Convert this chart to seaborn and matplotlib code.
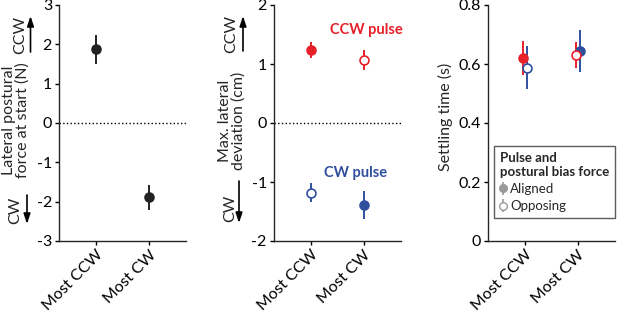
import numpy as np
import matplotlib
matplotlib.use("Agg")
import matplotlib.pyplot as plt
import seaborn as sns

# =========================
# DATA
# =========================
categories = ["Most CCW", "Most CW"]

# panel 1: lateral postural force at start (N)
force_mean = [1.88, -1.89]
force_err = [0.37, 0.31]

# panel 2: max. lateral deviation (cm)
ccw_dev_mean = [1.24, 1.07]
ccw_dev_err = [0.14, 0.165]
cw_dev_mean = [-1.18, -1.39]
cw_dev_err = [0.16, 0.23]

# panel 3: settling time (s)
ccw_settle_mean = [0.620, 0.630]
ccw_settle_err = [0.058, 0.045]
cw_settle_mean = [0.588, 0.644]
cw_settle_err = [0.072, 0.072]

# which condition is "aligned" (filled) for each pulse
ccw_filled = [True, False]
cw_filled = [False, True]

RED = "#e8202a"
BLUE = "#2f4f9e"
BLACK = "#222222"
GRAY = "#9a9a9a"
FS = 11.5

sns.set_style("ticks")
plt.rcParams["font.family"] = ["Lato", "DejaVu Sans"]
plt.rcParams["font.size"] = FS
plt.rcParams["axes.unicode_minus"] = False
plt.rcParams["axes.linewidth"] = 1.0
plt.rcParams["xtick.major.size"] = 3
plt.rcParams["ytick.major.size"] = 3

fig = plt.figure(figsize=(6.17, 3.13), dpi=100)
W, H = 617, 313


def add_axes(left_px, right_px, top_px=5, bottom_px=241):
    return fig.add_axes([left_px / W, 1 - bottom_px / H,
                         (right_px - left_px) / W, (bottom_px - top_px) / H])


def style_axes(ax):
    sns.despine(ax=ax)
    ax.set_xlim(-0.7, 1.7)
    ax.set_xticks(range(len(categories)))
    ax.set_xticklabels(categories, rotation=45, ha="right", rotation_mode="anchor")
    ax.tick_params(axis="both", colors="black", labelsize=FS, width=1, pad=2)


def draw_points(ax, xs, means, errs, color, filled, ms=6.4):
    for x, m, e, f in zip(xs, means, errs, filled):
        ax.errorbar(x, m, yerr=e, fmt="o", color=color, ms=ms, elinewidth=1.4,
                    mec=color, mew=1.2, mfc=color if f else "white", capsize=0,
                    zorder=3)


def fig_text(x_px, y_px, s, **kw):
    fig.text(x_px / W, 1 - y_px / H, s, ha="center", va="center", **kw)


def fig_arrow(x_px, y0_px, y1_px):
    fig.add_artist(matplotlib.patches.FancyArrowPatch(
        (x_px / W, 1 - y0_px / H), (x_px / W, 1 - y1_px / H),
        transform=fig.transFigure, arrowstyle="-|>,head_length=6,head_width=2",
        color="black", lw=1.2, mutation_scale=1, shrinkA=0, shrinkB=0))


x = np.arange(len(categories))

# =========================
# PANEL 1
# =========================
ax1 = add_axes(59, 186)
style_axes(ax1)
ax1.axhline(0, color="black", ls=":", lw=1, zorder=1)
draw_points(ax1, x, force_mean, force_err, BLACK, [True, True])
ax1.set_ylim(-3, 3)
ax1.set_yticks(range(-3, 4))
fig_text(16, 120, "Lateral postural\nforce at start (N)", rotation=90, linespacing=1.0)
fig_text(20, 35, "CCW", rotation=90)
fig_arrow(30.5, 52, 16)
fig_text(15.5, 210, "CW", rotation=90)
fig_arrow(27, 195, 224)

# =========================
# PANEL 2
# =========================
ax2 = add_axes(273.7, 401)
style_axes(ax2)
ax2.axhline(0, color="black", ls=":", lw=1, zorder=1)
draw_points(ax2, x, ccw_dev_mean, ccw_dev_err, RED, ccw_filled)
draw_points(ax2, x, cw_dev_mean, cw_dev_err, BLUE, cw_filled)
ax2.set_ylim(-2, 2)
ax2.set_yticks(range(-2, 3))
ax2.text(1.04, 1.58, "CCW pulse", color=RED, fontweight="bold", ha="center",
         va="center", fontsize=10.5)
ax2.text(0.85, -0.85, "CW pulse", color=BLUE, fontweight="bold", ha="center",
         va="center", fontsize=10.5)
fig_text(232, 121, "Max. lateral\ndeviation (cm)", rotation=90, linespacing=1.0)
fig_text(231, 34, "CCW", rotation=90)
fig_arrow(243, 51, 16)
fig_text(230, 208, "CW", rotation=90)
fig_arrow(239, 181, 223)

# =========================
# PANEL 3
# =========================
ax3 = add_axes(487.7, 615)
style_axes(ax3)
off = 0.04
ccw_x = [xi - off for xi in x]
cw_x = [xi + off for xi in x]
# filled (aligned) drawn on top
draw_points(ax3, cw_x, cw_settle_mean, cw_settle_err, BLUE, cw_filled)
draw_points(ax3, ccw_x, ccw_settle_mean, ccw_settle_err, RED, ccw_filled)
ax3.set_ylim(0, 0.8)
ax3.set_yticks([0, 0.2, 0.4, 0.6, 0.8])
ax3.set_yticklabels(["0", "0.2", "0.4", "0.6", "0.8"])
fig_text(445, 117, "Settling time (s)", rotation=90)

h_al = ax3.errorbar([np.nan], [np.nan], yerr=[0.1], fmt="o", color=GRAY, ms=5.5,
                    mfc=GRAY, mec=GRAY, elinewidth=1.2)
h_op = ax3.errorbar([np.nan], [np.nan], yerr=[0.1], fmt="o", color=GRAY, ms=5.5,
                    mfc="white", mec=GRAY, elinewidth=1.2)
leg = ax3.legend([h_al, h_op], ["Aligned", "Opposing"],
                 title="Pulse and\npostural bias force", loc="lower right",
                 bbox_to_anchor=(1.0, 0.097), frameon=True, fancybox=False,
                 fontsize=9.5, handlelength=0.5, handletextpad=0.3,
                 borderpad=0.45, labelspacing=0.4, borderaxespad=0)
leg.get_title().set_fontweight("bold")
leg.get_title().set_fontsize(9.5)
leg.get_title().set_linespacing(1.15)
leg._legend_box.align = "left"
leg.get_frame().set_edgecolor("#333333")
leg.get_frame().set_linewidth(1.0)

fig.savefig("out.png", dpi=100)
